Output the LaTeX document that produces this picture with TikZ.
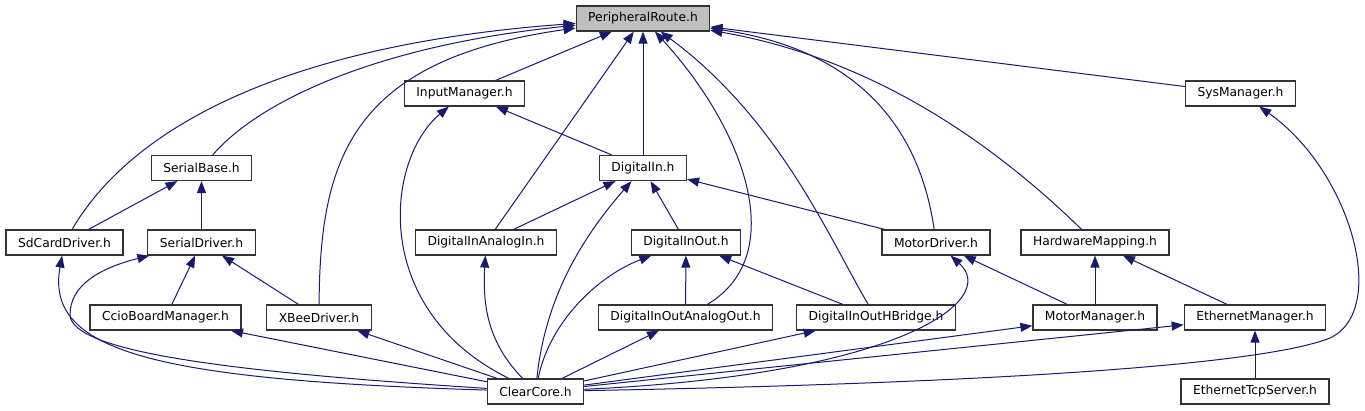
\documentclass[tikz,border=0pt]{standalone}
\usepackage{fontspec}
\setmainfont{DejaVu Sans}
\usetikzlibrary{arrows.meta}

\definecolor{edgeblue}{HTML}{191970}
\definecolor{rootgrey}{HTML}{BFBFBF}

\tikzset{
    file/.style={draw=black!80, line width=1.2pt, fill=white, inner xsep=12pt, inner ysep=0pt,
        minimum height=25pt, font=\fontsize{12.3}{14}\selectfont},
    root/.style={file, fill=rootgrey},
    dep/.style={draw=edgeblue, line width=1pt, -{Triangle[length=12pt,width=9pt]}}
}

\begin{document}
\begin{tikzpicture}[x=1pt, y=-1pt]
            \useasboundingbox (0,0) rectangle (1365,411);

            % files, one row per rank
            \node[root] (pr) at (643, 18.5) {PeripheralRoute.h};

            \node[file] (im) at (464.5, 93.5) {InputManager.h};
            \node[file] (sys) at (1240.5, 93.5) {SysManager.h};

            \node[file] (sb) at (201.5, 168) {SerialBase.h};
            \node[file] (di) at (643, 168) {DigitalIn.h};

            \node[file] (sd) at (64.5, 242.5) {SdCardDriver.h};
            \node[file] (sdrv) at (201.5, 242.5) {SerialDriver.h};
            \node[file] (diai) at (486, 242.5) {DigitalInAnalogIn.h};
            \node[file] (dio) at (686, 242.5) {DigitalInOut.h};
            \node[file] (md) at (936, 242.5) {MotorDriver.h};
            \node[file] (hw) at (1095, 242.5) {HardwareMapping.h};

            \node[file] (ccio) at (165.5, 317.5) {CcioBoardManager.h};
            \node[file] (xbee) at (319, 317.5) {XBeeDriver.h};
            \node[file] (dioao) at (685.5, 317.5) {DigitalInOutAnalogOut.h};
            \node[file] (hb) at (876, 317.5) {DigitalInOutHBridge.h};
            \node[file] (mm) at (1095, 317.5) {MotorManager.h};
            \node[file] (em) at (1255, 317.5) {EthernetManager.h};

            \node[file] (cc) at (535.5, 391.5) {ClearCore.h};
            \node[file] (tcp) at (1255, 391.5) {EthernetTcpServer.h};

            % straight includes
            \foreach \u/\v in {%
                im/pr,
                diai/pr,
                di/pr,
                sys/pr,
                sd/sb,
                sdrv/sb,
                ccio/sdrv,
                xbee/sdrv,
                di/im,
                diai/di,
                dio/di,
                md/di,
                dioao/dio,
                hb/dio,
                mm/md,
                mm/hw,
                em/hw,
                tcp/em,
                cc/ccio,
                cc/xbee,
                cc/dioao,
                cc/hb,
                cc/mm,
                cc/em%
                }{
                \draw (\u) edge[dep] (\v);
            }

            % bent includes up to PeripheralRoute.h
            \draw[dep] (sd) .. controls (130,130) and (280,45) .. (pr);
            \draw[dep] (sb) .. controls (260,100) and (380,45) .. (pr);
            \draw[dep] (xbee) .. controls (320,160) and (350,60) .. (pr);
            \draw[dep] (dioao) .. controls (790,255) and (745,130) .. (pr);
            \draw[dep] (hb) .. controls (830,240) and (780,120) .. (pr);
            \draw[dep] (md) .. controls (920,130) and (860,50) .. (pr);
            \draw[dep] (hw) .. controls (1000,150) and (880,60) .. (pr);

            % bent includes out of ClearCore.h
            \draw[dep] (cc) .. controls (150,380) and (45,350) .. (sd);
            \draw[dep] (cc) .. controls (230,372) and (72,352) .. (70,315)
                .. controls (70,285) and (100,268) .. (sdrv);
            \draw[dep] (cc) .. controls (370,310) and (385,160) .. (im);
            \draw[dep] (cc) .. controls (485,340) and (483,300) .. (diai);
            \draw[dep] (cc) .. controls (545,300) and (580,240) .. (di);
            \draw[dep] (cc) .. controls (550,320) and (600,275) .. (dio);
            \draw[dep] (cc) .. controls (900,375) and (1000,300) .. (md);
            \draw[dep] (cc) .. controls (900,385) and (1250,370) .. (1330,338)
                .. controls (1390,310) and (1350,170) .. (sys);
        \end{tikzpicture}
\end{document}
